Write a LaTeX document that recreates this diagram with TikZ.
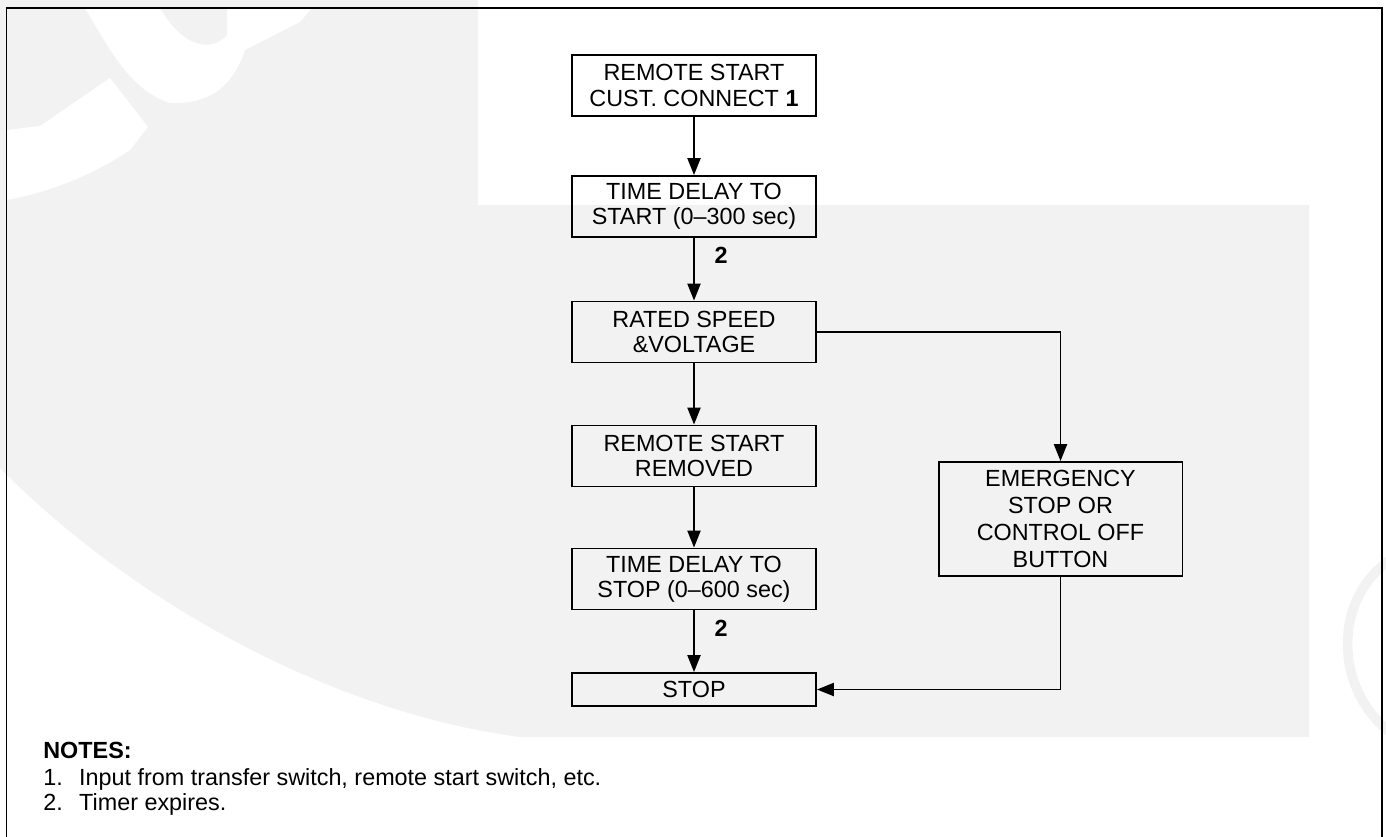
\documentclass[tikz,border=0pt]{standalone}
\usepackage{fontspec}
\setmainfont{Liberation Sans}
\usetikzlibrary{arrows.meta}
\definecolor{wm}{HTML}{F2F2F2}
\begin{document}
\begin{tikzpicture}[x=0.02cm,y=-0.02cm,
  box/.style={draw, line width=1.1pt, minimum width=4.88cm, minimum height=1.22cm,
    inner sep=0pt, align=center, font=\fontsize{13.3}{14.5}\selectfont},
  conn/.style={line width=1.1pt, -{Triangle[length=9.6pt,width=7.4pt]}},
  lbl/.style={font=\fontsize{13.3}{14.5}\selectfont\bfseries, inner sep=0pt},
  note/.style={anchor=base west, inner sep=0pt, font=\fontsize{13.3}{14.5}\selectfont}
]
\useasboundingbox (0,0) rectangle (1386,836);
% faint watermark background
\fill[wm] (0,0) -- (478,0) -- (478,205) -- (1309,205) -- (1309,737) -- (520,737)
  .. controls (330,712) and (130,600) .. (0,468) -- cycle;
% white swooshes of the watermark
\fill[white] (7,130) -- (40,126) -- (110,78) -- (148,127) -- (130,150)
  .. controls (100,170) and (60,190) .. (7,200) -- cycle;
\fill[white] (85,8) .. controls (110,50) and (130,90) .. (170,103)
  .. controls (215,105) and (235,80) .. (245,50) -- (300,22) -- (312,8)
  -- (227,8) -- (227,35) .. controls (215,50) and (185,52) .. (160,8) -- cycle;
% right-hand watermark arc
\draw[wm, line width=5.5pt] (1390,560) .. controls (1332,600) and (1335,690) .. (1390,732);
% frame
\draw[line width=1.1pt] (6.5,8) rectangle (1382,850);

% boxes
\node[box] (b1) at (694,85.5) {REMOTE START\\CUST. CONNECT \textbf{1}};
\node[box] (b2) at (694,206.5) {TIME DELAY TO\\START (0--300 sec)};
\node[box] (b3) at (694,332) {RATED SPEED\\\&VOLTAGE};
\node[box] (b4) at (694,456) {REMOTE START\\REMOVED};
\node[box] (b5) at (694,579) {TIME DELAY TO\\STOP (0--600 sec)};
\node[box, minimum height=0.66cm] (stop) at (694,689.5) {STOP};
\node[box, minimum width=4.88cm, minimum height=2.28cm, font=\fontsize{13.3}{15.3}\selectfont]
  (em) at (1060.5,519) {EMERGENCY\\STOP OR\\CONTROL OFF\\BUTTON};

% connectors
\draw[conn] (b1) -- (b2);
\draw[conn] (b2) -- (b3);
\draw[conn] (b3) -- (b4);
\draw[conn] (b4) -- (b5);
\draw[conn] (b5) -- (stop);
\draw[conn] (b3.east) -| (em.north);
\draw[conn] (em.south) |- (stop.east);

% labels
\node[lbl] (l2a) at (721,255) {2};
\node[lbl] (l2b) at (721,628) {2};

% notes
\node[note, font=\fontsize{13.3}{14.5}\selectfont\bfseries] (notes) at (43,758) {NOTES:};
\node[note] (n1) at (43,785) {\makebox[20.4pt][l]{1.}Input from transfer switch, remote start switch, etc.};
\node[note] (n2) at (43,810) {\makebox[20.4pt][l]{2.}Timer expires.};
\end{tikzpicture}
\end{document}
